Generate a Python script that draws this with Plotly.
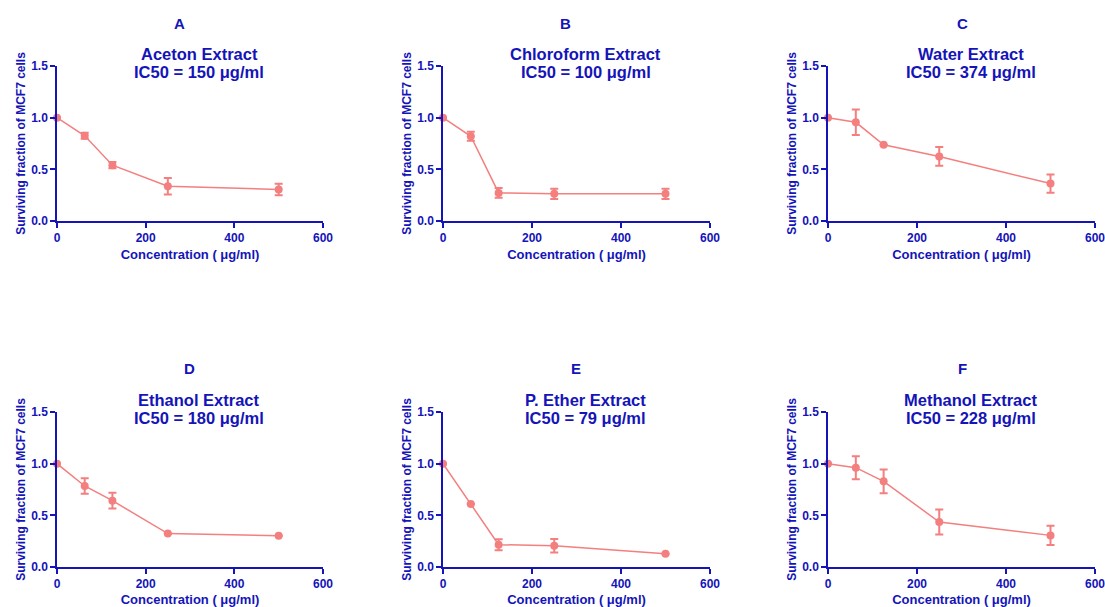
import plotly.graph_objects as go

conc = [0, 62.5, 125, 250, 500]

panel_letters = ["A", "B", "C", "D", "E", "F"]
extract_names = ["Aceton Extract", "Chloroform Extract", "Water Extract",
                 "Ethanol Extract", "P. Ether Extract", "Methanol Extract"]
ic50_values = [150, 100, 374, 180, 79, 228]

surv_aceton = [1.0, 0.825, 0.54, 0.337, 0.305]
err_aceton = [0.0, 0.03, 0.03, 0.08, 0.055]
surv_chloro = [1.0, 0.82, 0.272, 0.263, 0.263]
err_chloro = [0.0, 0.043, 0.048, 0.05, 0.05]
surv_water = [1.0, 0.955, 0.737, 0.625, 0.362]
err_water = [0.0, 0.123, 0.0, 0.09, 0.088]
surv_ethanol = [1.0, 0.784, 0.642, 0.323, 0.303]
err_ethanol = [0.0, 0.076, 0.077, 0.0, 0.0]
surv_pether = [1.0, 0.61, 0.216, 0.206, 0.129]
err_pether = [0.0, 0.0, 0.053, 0.065, 0.0]
surv_methanol = [1.0, 0.961, 0.829, 0.435, 0.306]
err_methanol = [0.0, 0.111, 0.115, 0.121, 0.092]

series = [(surv_aceton, err_aceton), (surv_chloro, err_chloro), (surv_water, err_water),
          (surv_ethanol, err_ethanol), (surv_pether, err_pether), (surv_methanol, err_methanol)]

x_ticks = [0, 200, 400, 600]
y_ticks = [0.0, 0.5, 1.0, 1.5]

W, H = 1105, 607
BLUE = "#1414B8"
SALMON = "#F37F7F"
FONT = "Liberation Sans, Arial, sans-serif"

# pixel layout of plot areas
col_x = [(57, 323), (443, 710), (828, 1095)]
row_y = [(66, 221), (412, 567)]

fig = go.Figure()
annotations = []

for i, ((ys, es), letter, name, ic) in enumerate(zip(series, panel_letters, extract_names, ic50_values)):
    r, c = divmod(i, 3)
    x0, x1 = col_x[c]
    yt, yb = row_y[r]
    xa = "xaxis" if i == 0 else f"xaxis{i+1}"
    ya = "yaxis" if i == 0 else f"yaxis{i+1}"
    xref = "x" if i == 0 else f"x{i+1}"
    yref = "y" if i == 0 else f"y{i+1}"
    fig.add_trace(go.Scatter(
        x=conc, y=ys, xaxis=xref, yaxis=yref, mode="lines+markers",
        line=dict(color=SALMON, width=1.5),
        marker=dict(color=SALMON, size=8),
        error_y=dict(type="data", array=es, visible=True, color=SALMON, thickness=2, width=4),
        cliponaxis=False, showlegend=False, hoverinfo="skip",
    ))
    axis_common = dict(
        showline=True, linecolor=BLUE, linewidth=1.5, ticks="outside", tickcolor=BLUE,
        ticklen=5, tickwidth=1.5, showgrid=False, zeroline=False, automargin=False,
        ticklabeloverflow="allow",
        tickfont=dict(family=FONT, size=12, color=BLUE, weight="bold"),
    )
    fig.update_layout(**{
        xa: dict(domain=[x0 / W, x1 / W], range=[0, 600], tickvals=x_ticks,
                 anchor=yref,
                 title=dict(text="Concentration ( μg/ml)", standoff=6,
                            font=dict(family=FONT, size=13, color=BLUE, weight="bold")),
                 **axis_common),
        ya: dict(domain=[1 - yb / H, 1 - yt / H], range=[0, 1.5], tickvals=y_ticks,
                 tickformat=".1f", anchor=xref,
                 title=dict(text="Surviving fraction of MCF7 cells", standoff=3,
                            font=dict(family=FONT, size=12, color=BLUE, weight="bold")),
                 **axis_common),
    })
    letter_x = [179, 565, 962, 189, 576, 962][i]
    letter_y = 23 if r == 0 else 368
    annotations.append(dict(text=letter, x=letter_x / W, y=1 - letter_y / H, xref="paper", yref="paper",
                            showarrow=False, xanchor="center", yanchor="middle",
                            font=dict(family=FONT, size=15, color=BLUE, weight="bold")))
    cx = (x0 + x1) / 2 + 9
    ty1 = 54 if r == 0 else 400
    ty2 = 72 if r == 0 else 418
    annotations.append(dict(text=name, x=cx / W, y=1 - ty1 / H, xref="paper", yref="paper",
                            showarrow=False, xanchor="center", yanchor="middle",
                            font=dict(family=FONT, size=16.5, color=BLUE, weight="bold")))
    annotations.append(dict(text=f"IC50 = {ic} μg/ml", x=cx / W, y=1 - ty2 / H, xref="paper", yref="paper",
                            showarrow=False, xanchor="center", yanchor="middle",
                            font=dict(family=FONT, size=16.5, color=BLUE, weight="bold")))

fig.update_layout(
    width=W, height=H, margin=dict(l=0, r=0, t=0, b=0, autoexpand=False),
    paper_bgcolor="white", plot_bgcolor="white",
    annotations=annotations, hovermode=False,
)

fig.write_html("out.html", config={"displayModeBar": False},
               post_script="document.body.style.margin='0';document.body.style.overflow='hidden';")
